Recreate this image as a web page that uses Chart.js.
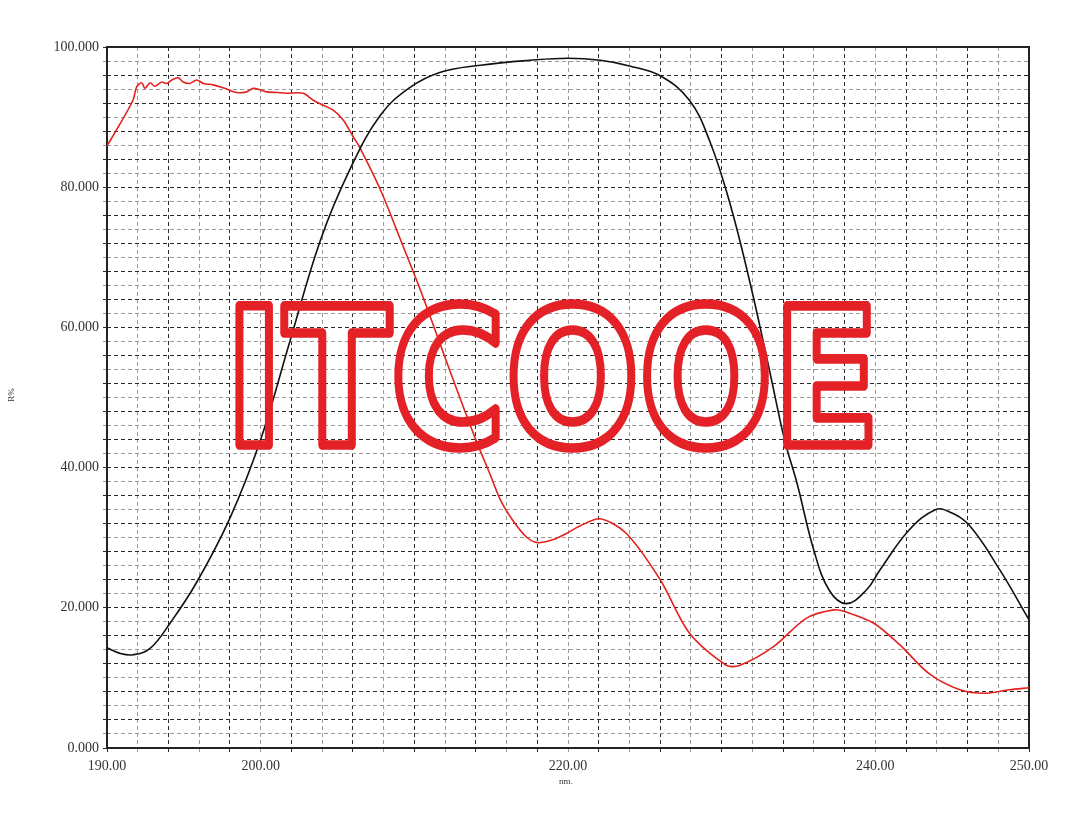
<!DOCTYPE html>
<html>
<head>
<meta charset="utf-8">
<script src="https://cdn.jsdelivr.net/npm/chart.js@4"></script>
<style>
  html, body { margin: 0; padding: 0; background: #fff; }
  #wrap { width: 1080px; height: 813px; position: relative; }
</style>
</head>
<body>
<div id="wrap"><canvas id="chart"></canvas></div>
<script>
"use strict";
// wavelength (nm) / reflectance (R%)
var blackX = [190, 190.85, 191.7, 192.8, 194.1, 195.8, 198.0, 200.0, 201.9, 203.9, 205.8, 207.8, 209.7, 211.7, 214.3, 217.5, 220.0, 222.1, 224.0, 226.0, 227.9, 229.2, 230.5, 231.8, 233.1, 234.1, 234.9, 236.0, 237.0, 238.1, 239.4, 240.3, 242.2, 243.9, 244.8, 246.1, 248.1, 250.0];
var blackY = [14.3, 13.5, 13.3, 14.2, 17.8, 23.5, 32.8, 44.0, 58.0, 72.5, 82.5, 90.3, 94.2, 96.4, 97.4, 98.1, 98.4, 98.1, 97.3, 95.9, 92.4, 86.7, 78.0, 66.8, 54.0, 43.9, 37.8, 28.2, 22.5, 20.6, 22.5, 25.4, 31.1, 34.0, 33.7, 31.8, 25.4, 18.3];

var redX = [190, 190.63, 191.69, 191.93, 192.26, 192.47, 192.8, 193.12, 193.56, 193.88, 194.21, 194.64, 194.96, 195.4, 195.84, 196.27, 196.92, 197.79, 198.44, 199.09, 199.52, 199.95, 200.39, 201.04, 201.69, 202.77, 203.42, 204.07, 204.72, 205.37, 206.02, 206.42, 207.8, 209.1, 210.4, 212.3, 214.05, 214.9, 215.6, 216.4, 217.3, 218.0, 219.0, 219.9, 220.8, 222.1, 223.8, 226.0, 227.9, 230.3, 231.2, 233.4, 235.5, 237.3, 238.1, 239.9, 241.6, 243.5, 245.5, 247.1, 248.7, 250.0];
var redY = [85.9, 88.2, 92.4, 94.3, 94.9, 94.1, 94.9, 94.4, 95.0, 94.8, 95.3, 95.6, 95.0, 94.8, 95.3, 94.8, 94.6, 94.0, 93.5, 93.6, 94.1, 93.9, 93.6, 93.5, 93.4, 93.4, 92.4, 91.7, 91.0, 89.6, 87.2, 85.8, 79.6, 72.5, 65.3, 53.9, 43.7, 39.2, 35.4, 32.5, 30.1, 29.3, 29.7, 30.6, 31.7, 32.7, 30.6, 24.0, 16.4, 11.8, 11.8, 14.5, 18.5, 19.7, 19.4, 17.8, 14.7, 10.6, 8.3, 7.8, 8.3, 8.6];

var xLabels = [190, 200, 220, 240, 250];
var yLabels = [0, 20, 40, 60, 80, 100];
var watermark = "ITCOOE";

function pairs(xs, ys) {
  return xs.map(function (x, i) { return { x: x, y: ys[i] }; });
}
function gridColor(c) {
  return c.index % 2 === 1 ? "#9a9a9a" : "#2a2a2a";
}
var tickFont = { family: "'Liberation Serif', 'DejaVu Serif', serif", size: 14 };

var framePlugin = {
  id: "frame",
  beforeDatasetsDraw: function (chart) {
    var a = chart.chartArea, ctx = chart.ctx;
    ctx.save();
    ctx.strokeStyle = "#222";
    ctx.lineWidth = 2;
    ctx.strokeRect(a.left, a.top, a.right - a.left, a.bottom - a.top);
    ctx.restore();
  },
  afterDraw: function (chart) {
    var ctx = chart.ctx;
    ctx.save();
    // axis titles
    ctx.fillStyle = "#333";
    ctx.font = "9px 'Liberation Serif', serif";
    ctx.textAlign = "center";
    ctx.textBaseline = "middle";
    ctx.fillText("nm.", 566, 782);
    ctx.translate(12, 395);
    ctx.rotate(-Math.PI / 2);
    ctx.fillText("R%", 0, 0);
    ctx.restore();
    // outlined watermark
    ctx.save();
    ctx.font = "bold 190px 'DejaVu Sans', sans-serif";
    var w = ctx.measureText(watermark).width;
    ctx.translate(225, 445);
    ctx.scale(655 / w, 1);
    ctx.textBaseline = "alphabetic";
    ctx.lineJoin = "round";
    ctx.lineWidth = 8 * w / 655;
    ctx.strokeStyle = "#e42127";
    ctx.strokeText(watermark, 0, 0);
    ctx.restore();
  }
};

new Chart(document.getElementById("chart"), {
  type: "line",
  data: {
    datasets: [
      { label: "black", data: pairs(blackX, blackY), borderColor: "#111", borderWidth: 1.6, pointRadius: 0, tension: 0.4 },
      { label: "red", data: pairs(redX, redY), borderColor: "#e3221e", borderWidth: 1.6, pointRadius: 0, tension: 0.3 }
    ]
  },
  options: {
    responsive: true,
    maintainAspectRatio: false,
    animation: false,
    layout: { padding: { top: 47, right: 51, left: 0, bottom: 0 } },
    plugins: { legend: { display: false }, tooltip: { enabled: false } },
    scales: {
      x: {
        type: "linear", min: 190, max: 250,
        afterFit: function (s) { s.height = 65; },
        grid: { color: gridColor, lineWidth: 1, tickLength: 4 },
        border: { display: false, dash: [4, 3] },
        ticks: {
          stepSize: 2, autoSkip: false, maxRotation: 0, color: "#333", font: tickFont, padding: 6,
          callback: function (v) { return xLabels.indexOf(v) >= 0 ? v.toFixed(2) : ""; }
        }
      },
      y: {
        min: 0, max: 100,
        afterFit: function (s) { s.width = 107; },
        grid: { color: function (c) { return c.tick && c.tick.value % 4 === 0 ? "#2a2a2a" : "#9a9a9a"; }, lineWidth: 1, tickLength: 4 },
        border: { display: false, dash: [4, 3] },
        ticks: {
          stepSize: 2, autoSkip: false, color: "#333", font: tickFont, padding: 4,
          callback: function (v) { return yLabels.indexOf(v) >= 0 ? v.toFixed(3) : ""; }
        }
      }
    }
  },
  plugins: [framePlugin]
});
</script>
</body>
</html>
